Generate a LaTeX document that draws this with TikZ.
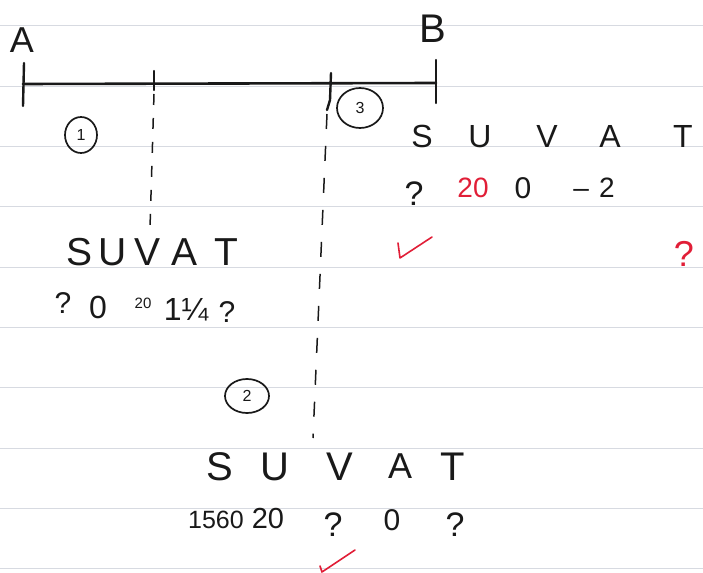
\documentclass[tikz,border=0pt]{standalone}
\usepackage{fontspec}
\setmainfont{Liberation Sans}
\usetikzlibrary{shapes.geometric}
\definecolor{pen}{RGB}{25,25,25}
\definecolor{redpen}{RGB}{225,30,55}
\definecolor{rule}{RGB}{215,218,225}
\newcommand{\fsz}[1]{\fontsize{#1bp}{#1bp}\selectfont}
\begin{document}
\begin{tikzpicture}[x=1bp,y=-1bp,
  txt/.style={anchor=base,inner sep=0pt,text=pen},
  rtxt/.style={anchor=base,inner sep=0pt,text=redpen},
  ruleline/.style={draw=rule,line width=0.9bp},
  axis/.style={draw=pen,line width=2.6bp,line cap=round},
  tickmark/.style={draw=pen,line width=2.4bp,line cap=round},
  dashline/.style={draw=pen,line width=1.5bp,dash pattern=on 11bp off 13bp},
  circled/.style={ellipse,draw=pen,line width=1.7bp,inner sep=0pt,text=pen},
  checkmark/.style={draw=redpen,line width=1.6bp,line cap=round,line join=round}]
\fill[white] (0,0) rectangle (703,573);
\useasboundingbox (0,0) rectangle (703,573);
% ruled paper
\foreach \yy in {25,86,146,206,267,327,387,448,508,568}
  \draw[ruleline] (0,\yy) -- (703,\yy);
% timeline
\coordinate (pA) at (23,84);
\coordinate (p1) at (154,84);
\coordinate (p2) at (331,84);
\coordinate (pB) at (436,83);
\draw[axis] (pA) -- (pB);
\draw[tickmark] (24,63) -- (23,106);
\draw[tickmark] (154,71) -- (154,90);
\draw[tickmark] (331,73) -- (330,100) -- (327,110);
\draw[tickmark] (436,60) -- (436,103);
\node[txt,font=\fsz{36}] (A) at (22,53) {A};
\node[txt,font=\fsz{40}] (B) at (433,43) {B};
% dashed separators
\coordinate (d1) at (150,228);
\coordinate (d2) at (313,438);
\draw[dashline] (p1) ++(0,10) -- (d1);
\draw[dashline,dash pattern=on 15bp off 17bp] (p2) ++(-4,30) -- (d2);
% circled labels
\node[circled,minimum width=32bp,minimum height=36bp,font=\fsz{16}] (c1) at (81,135) {1};
\node[circled,minimum width=46bp,minimum height=40bp,font=\fsz{16}] (c3) at (360,108) {3};
\node[circled,minimum width=44bp,minimum height=34bp,font=\fsz{16}] (c2) at (247,396) {2};
% section 3 (right)
\node[txt,font=\fsz{32}] (s3) at (422,148) {S};
\node[txt,font=\fsz{32}] (u3) at (480,148) {U};
\node[txt,font=\fsz{32}] (v3) at (547,148) {V};
\node[txt,font=\fsz{32}] (a3) at (610,148) {A};
\node[txt,font=\fsz{32}] (t3) at (683,148) {T};
\node[txt,font=\fsz{34}] (sv3) at (414,206) {?};
\node[rtxt,font=\fsz{28}] (uv3) at (473,198) {20};
\node[txt,font=\fsz{30}] (vv3) at (523,199) {0};
\node[txt,font=\fsz{28}] (av3) at (594,198) {–\hspace{10bp}2};
\coordinate (k3) at (398,243);
\draw[checkmark] (k3) -- (400,258) -- (432,237);
\node[rtxt,font=\fsz{36}] (tq3) at (684,266) {?};
% section 1 (middle)
\node[txt,font=\fsz{39}] (s1) at (80,265) {S};
\node[txt,font=\fsz{39}] (u1) at (113,265) {U};
\node[txt,font=\fsz{39}] (v1) at (148,265) {V};
\node[txt,font=\fsz{39}] (a1) at (185,265) {A};
\node[txt,font=\fsz{39}] (t1) at (226,265) {T};
\node[txt,font=\fsz{30}] (sv1) at (63,313) {?};
\node[txt,font=\fsz{32}] (uv1) at (98,318) {0};
\node[txt,font=\fsz{15}] (vv1) at (143,308) {20};
\node[txt,font=\fsz{32}] (av1) at (186,320) {1¼};
\node[txt,font=\fsz{30}] (tv1) at (227,322) {?};
% section 2 (bottom)
\node[txt,font=\fsz{40}] (s2) at (220,480) {S};
\node[txt,font=\fsz{40}] (u2) at (275,480) {U};
\node[txt,font=\fsz{40}] (v2) at (340,480) {V};
\node[txt,font=\fsz{36}] (a2) at (400,478) {A};
\node[txt,font=\fsz{40}] (t2) at (453,480) {T};
\node[txt,font=\fsz{25}] (sv2) at (216,528) {1560};
\node[txt,font=\fsz{29}] (uv2) at (268,528) {20};
\node[txt,font=\fsz{34}] (vv2) at (333,536) {?};
\node[txt,font=\fsz{30}] (av2) at (392,530) {0};
\node[txt,font=\fsz{34}] (tv2) at (455,536) {?};
\coordinate (k2) at (320,566);
\draw[checkmark] (k2) -- (322,572) -- (355,550);
\end{tikzpicture}
\end{document}
